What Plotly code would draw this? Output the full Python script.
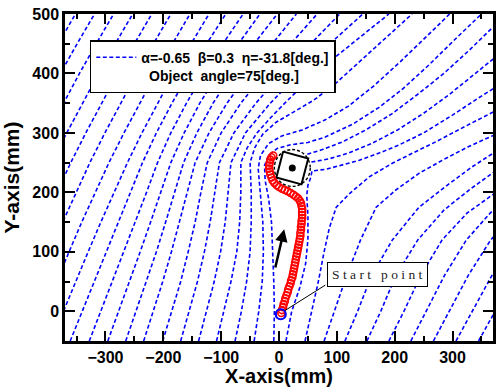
import math
import plotly.graph_objects as go

# ---------------- data ----------------
Y_LEVELS = [-50, 0, 50, 100, 150, 200, 250, 300, 350, 400, 450, 500]

# outer field lines: x position at each Y level
outer_lines_x = [
    [-625, -604, -583, -561, -539, -516, -492, -466, -439, -411, -382, -352],
    [-592, -571, -550, -528, -506, -483, -459, -433, -406, -378, -349, -319],
    [-559, -538, -517, -495, -473, -450, -426, -400, -373, -345, -316, -286],
    [-526, -505, -484, -462, -440, -417, -393, -367, -340, -312, -283, -253],
    [-493, -472, -451, -429, -407, -384, -360, -334, -307, -279, -250, -220],
    [-460, -439, -418, -396, -374, -351, -327, -301, -274, -246, -217, -187],
    [-427, -406, -385, -363, -341, -318, -294, -268, -241, -213, -184, -154],
    [-394, -373, -352, -330, -308, -285, -262, -237, -210, -182, -152, -121],
    [-361, -340, -320, -299, -278, -257, -236, -212, -185, -156, -125, -92],
    [-328, -308, -288, -268, -248, -229, -210, -187, -160, -130, -97, -62],
    [-296, -277, -258, -240, -222, -205, -187, -164, -137, -105, -70, -33],
    [-265, -247, -229, -212, -196, -181, -165, -142, -114, -80, -43, -3],
    [-234, -217, -201, -186, -172, -159, -145, -121, -90, -53, -12, 30],
    [-201, -185, -170, -157, -145, -135, -124, -100, -66, -25, 20, 66],
    [-170, -155, -141, -129, -119, -111, -103, -78, -40, 5, 55, 105],
    [-139, -125, -112, -101, -93, -88, -83, -58, -15, 35, 88, 145],
]

# field lines close to the object (x, y pairs)
line_L3_x = [-108, -95, -83, -73, -68, -66, -66, -55, -38, -15, 10, 62, 125, 190]
line_L3_y = [-50, 0, 50, 100, 150, 200, 250, 275, 300, 325, 350, 400, 450, 500]
line_L2_x = [-76, -65, -56, -50, -48, -48, -50, -42, -28, -5, 25, 60, 100, 145, 190, 230]
line_L2_y = [-50, 0, 50, 100, 150, 200, 250, 275, 298, 318, 335, 355, 385, 425, 465, 500]
line_L1_x = [-43, -35, -29, -27, -28, -32, -36, -32, -18, 5, 40, 80, 120, 165, 210, 255, 295]
line_L1_y = [-50, 0, 50, 100, 150, 200, 240, 262, 282, 295, 305, 322, 345, 380, 420, 462, 500]
line_A_x = [-9, -8, -9, -11, -13, -18, -24, -25, -18, -3, 20, 50, 80, 128, 173, 215, 260, 305, 350]
line_A_y = [-50, 0, 50, 100, 150, 190, 220, 245, 262, 274, 280, 284, 293, 315, 343, 375, 415, 458, 500]
line_G1_x = [49, 75, 110, 150, 195, 240, 285, 330, 370]
line_G1_y = [264, 272, 285, 305, 332, 365, 400, 440, 478]
line_G2_x = [56, 85, 120, 160, 205, 250, 295, 340, 380]
line_G2_y = [251, 256, 266, 282, 305, 333, 365, 400, 432]
line_R0_x = [12, 22, 36, 46, 50, 50, 48, 50, 55, 57, 82, 110, 139, 173, 208, 250, 300, 350, 380]
line_R0_y = [-50, 0, 40, 80, 120, 160, 195, 212, 225, 236, 239, 246, 254, 266, 280, 300, 330, 362, 380]
line_R1_x = [45, 57, 68, 78, 87, 99, 122, 156, 196, 231, 271, 310, 380]
line_R1_y = [-50, 0, 50, 100, 140, 175, 198, 226, 249, 266, 285, 305, 340]
line_R2_x = [78, 96, 117, 141, 168, 202, 242, 288, 328, 380]
line_R2_y = [-50, 0, 60, 120, 175, 204, 232, 257, 277, 300]
line_R3_x = [114, 136, 160, 196, 242, 288, 334, 380]
line_R3_y = [-50, 0, 60, 120, 175, 210, 243, 272]
line_R4_x = [152, 176, 202, 240, 285, 330, 380]
line_R4_y = [-50, 0, 60, 120, 170, 205, 240]
line_R5_x = [190, 216, 245, 282, 325, 375]
line_R5_y = [-50, 0, 60, 120, 165, 200]
line_R6_x = [228, 255, 286, 324, 365, 400]
line_R6_y = [-50, 0, 60, 120, 165, 195]
line_R7_x = [267, 294, 327, 366, 400]
line_R7_y = [-50, 0, 60, 120, 155]
line_R8_x = [306, 334, 368, 405]
line_R8_y = [-50, 0, 60, 110]
line_R9_x = [345, 373, 408]
line_R9_y = [-50, 0, 60]

# robot trajectory (red circles)
traj_x = [4, 5, 7, 8, 10, 11, 13, 15, 16, 18, 20, 21, 23, 24, 25, 26, 27, 28, 29, 30,
          31, 32, 33, 34, 35, 36, 37, 37, 38, 38, 39, 39, 40, 40, 40, 40, 39, 38, 36, 33,
          29, 25, 20, 15, 10, 5, 0, -4, -8, -11, -13, -15, -16, -17, -17, -16, -15, -13, -10]
traj_y = [-3, 2, 7, 12, 17, 22, 27, 32, 37, 42, 47, 52, 57, 62, 67, 72, 77, 82, 87, 92,
          97, 102, 107, 112, 117, 122, 127, 132, 137, 142, 147, 152, 157, 162, 167, 172, 177, 182, 186, 190,
          193, 196, 199, 202, 204, 206, 209, 212, 216, 220, 225, 230, 235, 240, 245, 250, 255, 259, 262]

start_x = [3]
start_y = [-5]

arrow_tail = (-7, 71)
arrow_head = (9, 138)

obj_center = (23, 241)
obj_side = 45
obj_angle_deg = 75
obj_circle_r = 31

label_pos = (170, 62)
label_link = (10, 1, 80, 44)

legend_text = ("α=-0.65  β=0.3  η=-31.8[deg.]<br>"
               "\u00a0\u00a0Object  angle=75[deg.]")

# ---------------- figure ----------------
BLUE = "#0000ff"
DASH = "4px,2.5px"
fig = go.Figure()

first = True
def add_field(xs, ys):
    global first
    fig.add_trace(go.Scatter(
        x=xs, y=ys, mode="lines",
        line=dict(color=BLUE, width=1.6, dash=DASH),
        name=legend_text, showlegend=first, hoverinfo="skip"))
    first = False

for xs in outer_lines_x:
    add_field(xs, Y_LEVELS)

for xs, ys in [(line_L3_x, line_L3_y), (line_L2_x, line_L2_y), (line_L1_x, line_L1_y),
               (line_A_x, line_A_y), (line_G1_x, line_G1_y), (line_G2_x, line_G2_y),
               (line_R0_x, line_R0_y), (line_R1_x, line_R1_y), (line_R2_x, line_R2_y),
               (line_R3_x, line_R3_y), (line_R4_x, line_R4_y), (line_R5_x, line_R5_y),
               (line_R6_x, line_R6_y), (line_R7_x, line_R7_y), (line_R8_x, line_R8_y),
               (line_R9_x, line_R9_y)]:
    add_field(xs, ys)

# object square (rotated by object angle)
cx, cy = obj_center
h = obj_side / 2
th = math.radians(obj_angle_deg)
sq_x, sq_y = [], []
for ux, uy in [(h, h), (-h, h), (-h, -h), (h, -h), (h, h)]:
    sq_x.append(cx + ux * math.cos(th) - uy * math.sin(th))
    sq_y.append(cy + ux * math.sin(th) + uy * math.cos(th))
fig.add_trace(go.Scatter(x=sq_x, y=sq_y, mode="lines",
                         line=dict(color="black", width=2), showlegend=False, hoverinfo="skip"))
fig.add_trace(go.Scatter(x=[cx], y=[cy], mode="markers",
                         marker=dict(color="black", size=7), showlegend=False, hoverinfo="skip"))

# trajectory
fig.add_trace(go.Scatter(x=traj_x, y=traj_y, mode="markers",
                         marker=dict(symbol="circle-open", color="red", size=7,
                                     line=dict(color="red", width=1.6)),
                         showlegend=False, hoverinfo="skip"))
fig.add_trace(go.Scatter(x=start_x, y=start_y, mode="markers",
                         marker=dict(symbol="circle-open", color="blue", size=10,
                                     line=dict(color="blue", width=2.2)),
                         showlegend=False, hoverinfo="skip"))

fig.add_shape(type="circle", xref="x", yref="y",
              x0=cx - obj_circle_r, x1=cx + obj_circle_r,
              y0=cy - obj_circle_r, y1=cy + obj_circle_r,
              line=dict(color="black", width=1.4, dash="3px,2px"))
fig.add_shape(type="line", xref="x", yref="y",
              x0=label_link[0], y0=label_link[1], x1=label_link[2], y1=label_link[3],
              line=dict(color="black", width=1))

fig.add_annotation(x=label_pos[0], y=label_pos[1], xref="x", yref="y",
                   text="S t a r t\u00a0\u00a0 p o i n t", showarrow=False,
                   font=dict(family="Liberation Serif, Times New Roman, serif", size=13.5, color="#222"),
                   bgcolor="white", bordercolor="black", borderwidth=1, borderpad=4)
fig.add_annotation(x=arrow_head[0], y=arrow_head[1], ax=arrow_tail[0], ay=arrow_tail[1],
                   xref="x", yref="y", axref="x", ayref="y", text="",
                   showarrow=True, arrowhead=2, arrowsize=1, arrowwidth=2.5, arrowcolor="black")

FONT = "Liberation Sans, Arial, sans-serif"
axis_common = dict(
    showline=True, linewidth=2.5, linecolor="black", mirror="allticks",
    ticks="inside", ticklen=10, tickwidth=2, tickcolor="black",
    showgrid=False, zeroline=False,
    tickfont=dict(family=FONT, size=16, color="black", weight="bold"),
)
fig.update_xaxes(range=[-370, 370], tickmode="linear", tick0=0, dtick=100,
                 minor=dict(ticks="inside", ticklen=5, tickwidth=2, tickcolor="black",
                            tick0=0, dtick=50, showgrid=False),
                 title=dict(text="X-axis(mm)", standoff=0,
                            font=dict(family=FONT, size=20, color="black", weight="bold")),
                 **axis_common)
fig.update_yaxes(range=[-50, 500], tickmode="linear", tick0=0, dtick=100,
                 minor=dict(ticks="inside", ticklen=5, tickwidth=2, tickcolor="black",
                            tick0=0, dtick=50, showgrid=False),
                 title=dict(text="Y-axis(mm)", standoff=8,
                            font=dict(family=FONT, size=21, color="black", weight="bold")),
                 **axis_common)

fig.update_layout(
    width=496, height=387,
    margin=dict(l=65, r=0, t=14, b=46),
    plot_bgcolor="white", paper_bgcolor="white",
    legend=dict(x=0.058, y=0.92, xanchor="left", yanchor="top",
                bgcolor="white", bordercolor="black", borderwidth=1.5,
                font=dict(family=FONT, size=14, color="black", weight="bold"),
                itemwidth=40, valign="top", tracegroupgap=0),
)

fig.write_html("out.html")
